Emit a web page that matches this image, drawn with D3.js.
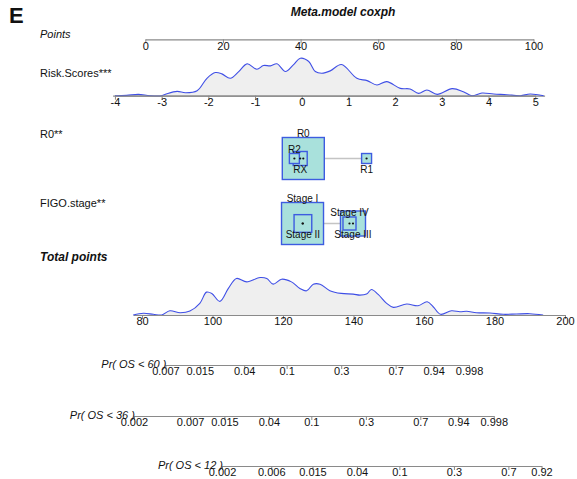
<!DOCTYPE html>
<html>
<head>
<meta charset="utf-8">
<script src="https://cdn.jsdelivr.net/npm/d3@7"></script>
<style>
  body { margin: 0; background: #fff; }
  text { font-family: "Liberation Sans", Arial, sans-serif; }
</style>
</head>
<body>
<script>
// ---- data ----
const pointTicks = [0, 20, 40, 60, 80, 100];

const riskTicks = [-4, -3, -2, -1, 0, 1, 2, 3, 4, 5];
// [risk score, relative density]
const riskDensity = [
  [-4.0, 0], [-3.75, 0.3], [-3.5, 1.3], [-3.25, 0], [-3.0, 0], [-2.9, 1.7],
  [-2.67, 4.3], [-2.49, 3], [-2.24, 5], [-2.03, 17.3], [-1.85, 23], [-1.71, 21.7],
  [-1.53, 17.3], [-1.35, 24], [-1.17, 31.7], [-0.96, 26.3], [-0.82, 30], [-0.67, 29.7],
  [-0.53, 31.7], [-0.35, 24], [-0.18, 30.7], [-0.03, 37.3], [0.15, 34], [0.29, 24],
  [0.43, 22.3], [0.61, 24.7], [0.85, 31], [1.18, 17.3], [1.40, 15], [1.61, 10.7],
  [1.82, 14], [2.11, 7.3], [2.32, 6.7], [2.50, 2.3], [2.68, 5.7], [2.90, 1.3],
  [3.22, 7], [3.46, 4], [3.64, 0], [3.86, 2.7], [4.11, 1.7], [4.39, 1], [4.68, 0],
  [4.89, 1.7], [5.18, 0]
];

const r0Levels = ["R0", "R1", "R2", "RX"];
const r0Points = [40.7, 57.0, 38.4, 39.9];
const r0Freq = [0.817, 0.046, 0.046, 0.091];

const figoLevels = ["Stage I", "Stage II", "Stage III", "Stage IV"];
const figoPoints = [40.5, 40.6, 53.5, 52.6];
const figoFreq = [0.614, 0.109, 0.218, 0.059];

const totalTicks = [80, 100, 120, 140, 160, 180, 200];
// [total points, relative density]
const totalDensity = [
  [77.5, 0], [80.4, 1.7], [83.2, 0.7], [85.6, 0], [87.9, 4.3], [90.8, 2.3], [93.6, 4],
  [96.4, 11.7], [98.3, 23], [99.8, 21.7], [102.1, 13.7], [104.5, 26.7], [106.8, 36.7],
  [109.7, 33.3], [113.5, 37.7], [115.4, 36.7], [117.2, 31], [119.6, 36], [122.4, 33.3],
  [124.8, 26.7], [126.7, 24.3], [128.6, 31], [130.5, 31], [133.3, 24.5], [136.5, 21.7],
  [139.9, 21], [141.8, 20], [143.7, 21], [145.1, 25.7], [147, 20.7], [149.4, 11.7],
  [151.3, 7.7], [155.1, 11], [158.3, 9.3], [160.9, 13.3], [162.6, 8.3], [164.7, 0.7],
  [167.8, 4.3], [170.2, 3.3], [172.1, 3.7], [174.9, 2.3], [178.7, 2], [182.5, 0.7],
  [186.2, 1], [190, 1.3], [193.8, 0]
];

const probTimes = [60, 36, 12];
const probTicks60 = [0.007, 0.015, 0.04, 0.1, 0.3, 0.7, 0.94, 0.998];
const probTicks36 = [0.002, 0.007, 0.015, 0.04, 0.1, 0.3, 0.7, 0.94, 0.998];
const probTicks12 = [0.002, 0.006, 0.015, 0.04, 0.1, 0.3, 0.7, 0.92];

// model constants (points per unit of risk score / linear predictor)
const riskPtsPerUnit = 12.03, riskPtsAtZero = 40.3;
const lpPts = 12.695;
const probShift = [149.6, 156.6, 181.58];   // total points where cloglog(p) = 0

// ---- layout ----
const W = 577, H = 479;
const blue = "#3f4fe6", boxBlue = "#3d5ce0", boxFill = "#a9e1dc";
const axisGray = "#8a8a8a";
const rowY = {points: 39.3, risk: 95.7, r0: 158.5, figo: 223.5, total: 315, prob: [365, 416, 466]};

const svg = d3.select("body").append("svg")
  .attr("width", W).attr("height", H)
  .style("background", "#fff");

// scales
const ptsX = d3.scaleLinear().domain([0, 100]).range([145.3, 533.5]);
const riskX = d3.scaleLinear().domain([-4, 5])
  .range([ptsX(riskPtsAtZero - 4 * riskPtsPerUnit), ptsX(riskPtsAtZero + 5 * riskPtsPerUnit)]);
const totX = d3.scaleLinear().domain([80, 200]).range([142, 565]);

function styleAxis(g) {
  g.select(".domain").attr("stroke", axisGray).attr("stroke-width", 1.2);
  g.selectAll(".tick line").attr("stroke", axisGray);
  g.selectAll(".tick text").attr("fill", "#111")
    .style("font-size", "11px").style("font-family", "'Liberation Sans', Arial, sans-serif");
}

function drawAxis(scale, y, ticks, fmt) {
  const ax = d3.axisBottom(scale).tickValues(ticks).tickSize(4).tickSizeOuter(0).tickPadding(-1.6);
  if (fmt) ax.tickFormat(fmt);
  svg.append("g").attr("transform", "translate(0," + y + ")").call(ax).call(styleAxis);
}

function drawDensity(xs, y0, dens, lo, hi) {
  const y = d3.scaleLinear().domain([0, d3.max(dens, d => d[1])]).range([y0, y0 - 37.5]);
  const area = d3.area().curve(d3.curveCatmullRom.alpha(0.5))
    .x(d => xs(d[0])).y0(y0).y1(d => y(d[1]));
  const line = d3.line().curve(d3.curveCatmullRom.alpha(0.5))
    .x(d => xs(d[0])).y(d => y(d[1]));
  svg.append("path").datum(dens).attr("d", area).attr("fill", "#efefef");
  // axis line under the curve
  const ext = xs.copy().domain([lo, hi]).range([xs(lo), xs(hi)]);
  drawAxis(ext, y0, [], null);
  svg.append("path").datum(dens).attr("d", line)
    .attr("fill", "none").attr("stroke", blue).attr("stroke-width", 1.1);
}

function label(txt, x, y, opts) {
  const t = svg.append("text").attr("x", x).attr("y", y).text(txt)
    .style("font-size", (opts && opts.size || 11) + "px").attr("fill", "#111");
  if (opts && opts.italic) t.style("font-style", "italic");
  if (opts && opts.bold) t.style("font-weight", "bold");
  if (opts && opts.anchor) t.attr("text-anchor", opts.anchor);
  return t;
}

// titles
label("E", 9, 23, {size: 22, bold: true});
label("Meta.model coxph", 343, 16, {size: 12, bold: true, italic: true, anchor: "middle"});

// Points
label("Points", 40, 38, {italic: true});
drawAxis(ptsX, rowY.points, pointTicks);

// Risk scores
label("Risk.Scores***", 40, 77);
drawDensity(riskX, rowY.risk, riskDensity, -4.05, 5.2);
drawAxis(riskX, rowY.risk, riskTicks, d => d);

// categorical rows
const labelSide = {"R0": "above", "R1": "below", "R2": "above", "RX": "below",
  "Stage I": "above", "Stage II": "below", "Stage III": "below", "Stage IV": "above"};

function drawFactor(name, levels, pts, freq, y, nameY) {
  label(name, 40, nameY);
  const side = d3.scaleSqrt().domain([0, d3.max(freq)]).range([0, 42]);
  const items = levels.map((l, i) => ({l, x: ptsX(pts[i]), s: side(freq[i])}))
    .sort((a, b) => b.s - a.s);
  svg.append("line")
    .attr("x1", ptsX(d3.min(pts))).attr("x2", ptsX(d3.max(pts)))
    .attr("y1", y).attr("y2", y)
    .attr("stroke", "#c4c4c4").attr("stroke-width", 1.4);
  const g = svg.append("g");
  g.selectAll("rect").data(items).join("rect")
    .attr("x", d => d.x - d.s / 2).attr("y", d => y - d.s / 2)
    .attr("width", d => d.s).attr("height", d => d.s)
    .attr("fill", boxFill).attr("stroke", boxBlue).attr("stroke-width", 1.4);
  g.selectAll("circle").data(items).join("circle")
    .attr("cx", d => d.x).attr("cy", y).attr("r", 1.1).attr("fill", "#111");
  g.selectAll("text").data(items).join("text")
    .attr("x", d => d.x)
    .attr("y", d => labelSide[d.l] === "above" ? y - d.s / 2 - 1 : y + 14.5)
    .attr("text-anchor", "middle").style("font-size", "10px").attr("fill", "#111")
    .text(d => d.l);
}
drawFactor("R0**", r0Levels, r0Points, r0Freq, rowY.r0, 138);
drawFactor("FIGO.stage**", figoLevels, figoPoints, figoFreq, rowY.figo, 206.5);

// Total points
label("Total points", 40, 261, {size: 12, bold: true, italic: true});
drawDensity(totX, rowY.total, totalDensity, 77.5, 200);
drawAxis(totX, rowY.total, totalTicks);

// probability axes
const cloglog = p => Math.log(-Math.log(1 - p));
[probTicks60, probTicks36, probTicks12].forEach((ticks, i) => {
  const toPts = p => probShift[i] + lpPts * cloglog(p);
  const first = ticks[0], last = ticks[ticks.length - 1];
  const sc = d3.scaleLinear()
    .domain([cloglog(first), cloglog(last)])
    .range([totX(toPts(first)), totX(toPts(last))]);
  const y = rowY.prob[i];
  drawAxis(sc, y, ticks.map(cloglog), (d, j) => ticks[j]);
  label("Pr( OS < " + probTimes[i] + " )", sc(cloglog(first)) + 1, y + 3, {italic: true, anchor: "end"});
});
</script>
</body>
</html>
